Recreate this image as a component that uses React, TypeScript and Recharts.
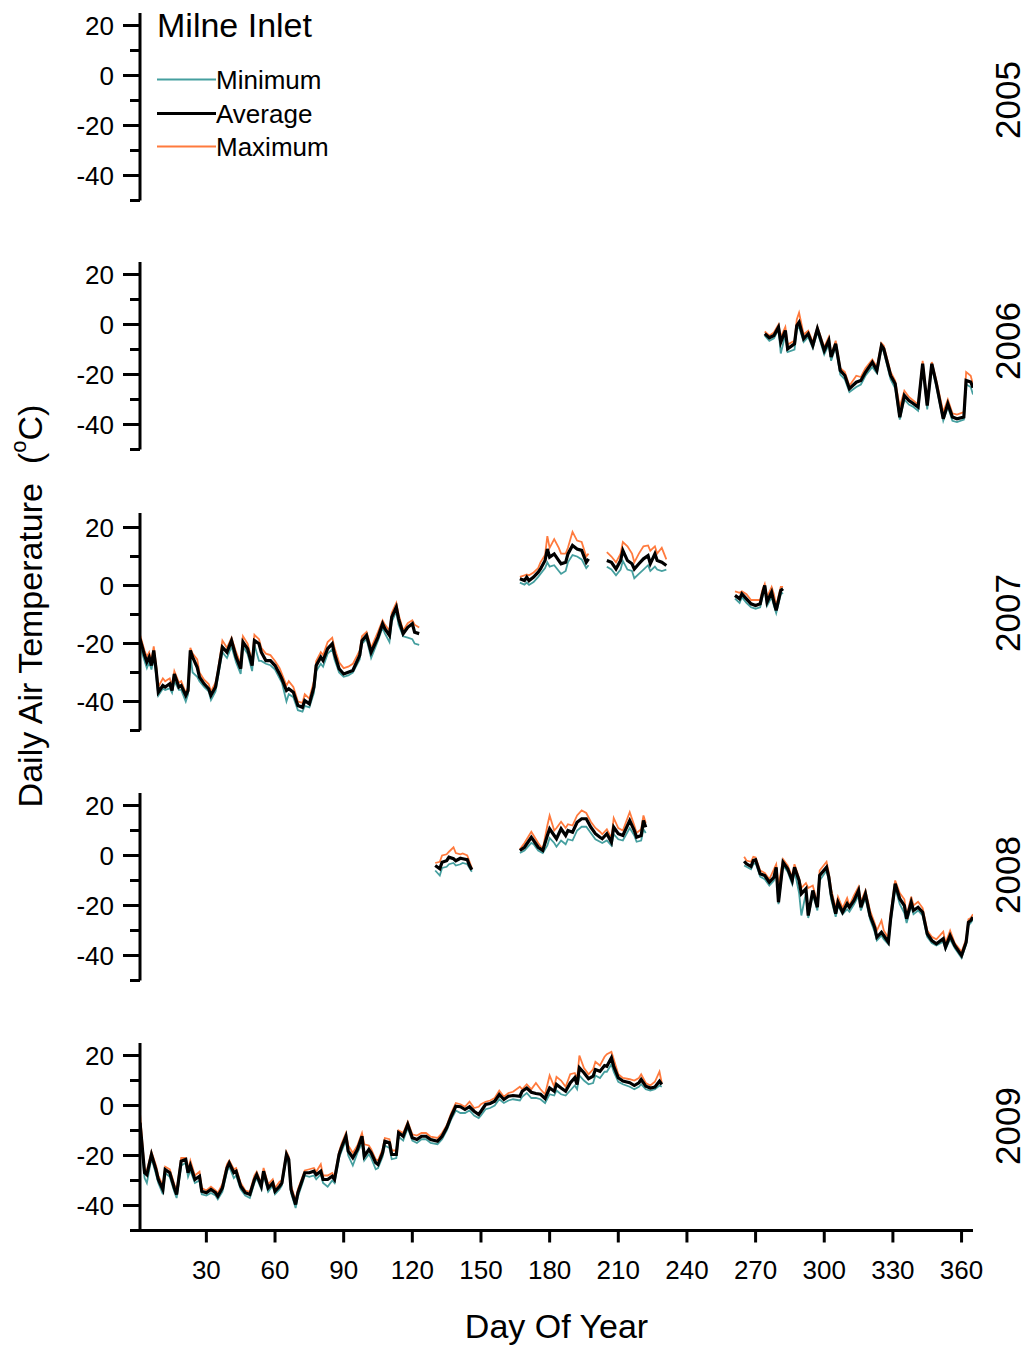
import React from "react";
import { LineChart, Line, XAxis, YAxis, Legend } from "recharts";

const FONT = '"Liberation Sans", Arial, Helvetica, sans-serif';
const MIN_COLOR = "#459f9f";
const MAX_COLOR = "#ff7a3d";
const AVG_COLOR = "#000000";
const AXIS_X = 140;

const dayTicks = [30, 60, 90, 120, 150, 180, 210, 240, 270, 300, 330, 360];
const tempTicks = [-50, -40, -30, -20, -10, 0, 10, 20];
const years = ["2005", "2006", "2007", "2008", "2009"];

// 2006: record starts in early October
const days2006 = [274, 276, 278, 280, 281, 283, 284, 287, 288, 289, 291, 293, 295, 297, 300, 302, 303, 305, 307, 309, 311, 314, 316, 318, 321, 323, 325, 326, 329, 331, 333, 335, 337, 339, 341, 343, 345, 347, 349, 352, 354, 356, 358, 361, 362, 364, 365];
const avg2006 = [-3.7, -5.3, -4.4, -1.1, -7.1, -2.4, -9.7, -7.7, -0.4, 0.9, -5.7, -3.7, -8.4, -1.7, -10.4, -6.4, -13, -7.7, -18.4, -20.4, -25.7, -23.1, -22.4, -19.1, -15.1, -18.4, -8.4, -9.7, -20.4, -23.7, -37.1, -28.4, -30.4, -31.7, -33, -15.7, -32.4, -15.7, -23.7, -37.7, -31.7, -37, -37.7, -37, -22.4, -23, -25.3];
const min2006 = [-4.5, -6.5, -5.5, -2, -11.6, -4, -11, -10, -2, -1, -7, -5, -9.5, -3, -12, -8, -14.5, -9, -20, -22, -27, -25, -24, -20.5, -17, -19.5, -9.5, -11, -22, -25.5, -38, -30, -32, -33, -34.5, -17, -34, -17, -25, -38.5, -33, -38.5, -39, -38, -24, -25, -28];
const max2006 = [-2.8, -4.5, -3.2, 0, -5, -1, -8, -6.5, 2, 4.7, -4, -2.5, -7, -1, -9, -5, -12, -6.5, -17.5, -19, -24.5, -20.5, -21, -17.5, -14, -17, -7.5, -8.5, -19, -22.5, -33, -26.5, -29, -30.5, -32, -14.5, -31, -15, -22.5, -35, -30, -35.5, -36, -35, -19, -20.5, -24];

// 2007: null marks a gap in the logger record
const days2007 = [
  1, 3, 4, 5, 6, 7, 8, 9, 11, 12, 14, 15, 16, 18, 19, 21, 22, 23, 24, 26, 27, 29, 31, 32, 34, 35, 37, 39, 41, 43, 45, 46, 48, 50, 51, 53, 54, 56, 58, 60, 62, 63, 65, 66, 68, 70, 72, 73, 75, 77, 78, 80, 81, 83, 85, 86, 88, 90, 92, 94, 97, 98, 100, 102, 105, 107, 108, 110, 111, 113, 114, 116, 118, 120, 121, 123,
  145,
  167, 169, 170, 171, 173, 175, 176, 178, 179, 180, 182, 184, 185, 187, 188, 190, 192, 194, 196, 197,
  201,
  205, 207, 209, 211, 212, 214, 216, 217, 219, 221, 223, 224, 226, 227, 229, 231,
  246,
  261, 263, 264, 266, 268, 270, 272, 273, 274, 275, 277, 278, 279, 281, 282,
];
const avg2007 = [
  -18.4, -24.1, -26.4, -24.7, -27.6, -22.4, -28.7, -36.8, -34.5, -35, -33.9, -36.2, -30.5, -35, -34.5, -37.9, -36.2, -22.4, -24.7, -28.2, -31.6, -33.9, -35.6, -37.9, -35, -30.5, -21.3, -23, -19, -24.7, -28.7, -19.5, -21.8, -27.6, -19, -20.1, -23, -25.9, -25.9, -27.6, -30.5, -32.2, -36.2, -35.6, -36.8, -41.4, -42, -39.7, -40.8, -35, -27.6, -24.7, -25.9, -21.8, -20.1, -23.6, -28.7, -30.5, -29.9, -29.3, -24.1, -19, -17.2, -23, -17.8, -13.2, -14.9, -17.2, -10.9, -7.5, -11.5, -16.6, -14.4, -13.2, -16.1, -16.6,
  null,
  2.3, 1.7, 2.9, 1.7, 2.9, 4.6, 5.7, 8.6, 12.6, 9.8, 10.9, 8.6, 7.5, 8, 10.9, 13.8, 12.6, 12.1, 8, 9.2,
  null,
  8.6, 8, 5.7, 8.6, 12.1, 8.6, 7.5, 5.7, 7.5, 9.2, 10.3, 7.5, 10.9, 8.6, 8, 6.9,
  null,
  -3.4, -4.6, -2.9, -4.6, -6.3, -6.9, -6.3, -2.9, 0, -5.7, -2.3, -5.7, -8.6, -1.7, -1.1,
];
const min2007 = [
  -21, -26, -28.5, -26.5, -29, -25, -30.5, -38, -35.5, -36, -35.5, -37, -33, -36, -36, -40, -37.5, -24, -30, -31.5, -33, -35, -36.5, -39.5, -36.5, -32, -23, -25, -21, -26.5, -30.5, -21, -23.5, -29.5, -20.5, -26, -26, -27, -27.5, -29, -32, -33.5, -40, -37.5, -38.5, -43, -43.5, -41.5, -42, -37, -29.5, -27, -28, -23.5, -22, -25.5, -30, -31.5, -31, -30, -25.5, -20, -18.5, -25, -19, -14.5, -16.5, -19.5, -12.5, -9, -13.5, -17.5, -18, -18.5, -20, -20.5,
  null,
  1, 0.3, 1, 0.2, 1.2, 3, 4, 6, 8, 6.5, 7, 5, 4, 5, 8, 10.5, 10, 9, 6, 7,
  null,
  6.5, 5.5, 3.5, 5.5, 8.5, 5.5, 5, 2.5, 4, 5.5, 7, 5, 6.5, 5.5, 5, 5.5,
  null,
  -4.5, -6, -4, -6, -7.5, -8, -7.5, -4, -1, -7, -4, -7, -9.5, -3, -2.5,
];
const max2007 = [
  -17, -22.5, -24.5, -23, -26, -21, -27, -35, -32, -33, -32, -34.5, -29.5, -33.5, -33, -37, -35, -21.5, -23.5, -25.5, -30, -32.5, -34, -36.5, -33.5, -29.5, -19, -21.5, -18, -23, -27, -17.5, -20, -26, -17, -18.5, -21.5, -23.5, -24, -26, -28.5, -30.5, -34.5, -33, -35, -40, -40.5, -37.5, -39, -33, -26, -23, -24, -19.5, -18, -21.5, -26.5, -28.5, -28, -27, -22.5, -17.5, -16, -21.5, -16, -12, -13.5, -15.5, -9.5, -6, -10, -15.5, -13, -12, -13.5, -14.5,
  null,
  3, 3.5, 3.8, 3.5, 4.5, 6, 8, 10.5, 17, 13, 16, 13, 11, 11, 13, 18.5, 15.5, 15, 10, 11,
  null,
  11.5, 10, 8, 11, 15, 13.5, 11, 8, 11, 13.5, 13.8, 12, 13.5, 11, 13, 9,
  null,
  -2, -2.5, -2, -3, -5, -5, -5, -1.5, 0.5, -4, -0.5, -3, -7, -0.5, -0.5,
];

// 2008
const days2008 = [
  130, 132, 133, 135, 136, 138, 139, 141, 142, 144, 145, 146,
  157,
  167, 169, 172, 173, 175, 177, 179, 180, 182, 183, 185, 187, 188, 190, 192, 194, 196, 198, 200, 202, 203, 205, 207, 208, 210, 212, 215, 217, 218, 220, 221, 222,
  243,
  265, 266, 268, 269, 270, 272, 274, 276, 278, 279, 280, 282, 284, 286, 287, 289, 290, 292, 293, 295, 297, 298, 301, 302, 303, 305, 306, 308, 310, 311, 313, 315, 316, 318, 320, 322, 323, 325, 326, 328, 329, 331, 333, 335, 336, 338, 339, 341, 343, 345, 347, 349, 352, 353, 355, 357, 360, 362, 363, 364, 365,
];
const avg2008 = [
  -4, -5.3, -2.7, -2.1, -0.7, -1.3, -2.1, -1.1, -1.3, -1.7, -4, -5.7,
  null,
  2, 3.3, 7.3, 6, 3.3, 2, 8, 10.7, 8, 6.7, 10.7, 8, 10, 9.3, 13.3, 14.7, 14.7, 11.3, 8.7, 7.3, 6.7, 8.7, 5.3, 11.3, 8.7, 8, 14, 10, 7.3, 8, 14, 11.3,
  null,
  -2.3, -3.3, -4.4, -2, -1.7, -7.3, -8, -10.7, -8.7, -4.7, -18.7, -2.7, -5.3, -10, -4.7, -10, -15.3, -13.3, -24, -14, -20.7, -8, -4.7, -8.7, -15.3, -23.3, -18.7, -22.7, -19.3, -20.7, -18, -14, -20.7, -15.3, -24, -28.7, -32.7, -30.7, -32, -34.7, -25.3, -11.3, -17.3, -20, -25.3, -18.7, -22, -20.7, -22.7, -31.3, -34, -35.3, -33.3, -36.7, -32, -36, -40, -34.7, -26.7, -26, -24.7,
];
const min2008 = [
  -6, -8, -5, -4.5, -3.5, -3, -4, -3.5, -3, -3.5, -5, -6.5,
  null,
  1, 2, 5, 4.5, 2, 1, 4, 7, 5, 3.5, 6, 4.5, 6.5, 6, 10, 11.5, 11.5, 9, 6.5, 5.5, 5, 6, 4, 8.5, 6.5, 6, 11, 8, 5.5, 6, 10.5, 9,
  null,
  -4, -4.5, -5.5, -3.5, -3, -8.5, -9.5, -12, -10, -6, -19.5, -4, -6.5, -11.5, -6, -15, -24, -15, -25, -15.5, -22, -10, -6, -10, -17.5, -24.5, -20, -23.5, -21.5, -22.5, -19.5, -16, -22, -17, -25.5, -30.5, -34, -32, -33.5, -35.5, -27, -13, -19.5, -23, -27, -20, -23.5, -22, -24, -32.5, -35, -36, -34.5, -37.5, -33.5, -37, -41, -35.5, -28, -27, -25.5,
];
const max2008 = [
  -3, -2.5, 0, 0.5, 1.5, 3.3, 1, 0.5, 0.8, 0, -2.5, -5,
  null,
  2.5, 5, 9.5, 8, 5, 2.5, 12, 16, 10, 11, 13.5, 11, 12.5, 12, 16, 18, 17, 13.5, 11, 9.5, 8.5, 10.5, 7, 15, 11, 10, 17.3, 12, 9, 10.5, 16, 13,
  null,
  -0.5, -2, -2.5, -0.5, -0.8, -6, -7, -9.5, -5.5, -3.5, -12, -1.5, -4, -8.5, -3.5, -9, -13, -11, -13, -12, -19, -6, -2.5, -7, -13.5, -21, -16.5, -21, -17, -20, -16, -12.5, -18.5, -14, -22, -27, -30, -26, -30, -33, -23, -10, -15, -17.5, -24, -16.5, -20, -18.5, -21, -30, -32.5, -33.5, -30.5, -35, -30, -35, -38.5, -33.5, -25.5, -25, -23.5,
];

// 2009: record ends mid-August
const days2009 = [1, 3, 4, 6, 8, 9, 11, 12, 14, 16, 17, 19, 21, 22, 23, 25, 27, 28, 30, 32, 34, 35, 37, 39, 40, 42, 43, 45, 47, 49, 51, 52, 54, 55, 57, 59, 60, 62, 63, 65, 66, 67, 69, 70, 72, 73, 75, 77, 78, 80, 81, 83, 85, 86, 88, 89, 91, 92, 94, 96, 98, 99, 101, 102, 104, 105, 107, 108, 110, 111, 113, 114, 116, 118, 120, 122, 124, 126, 128, 131, 133, 135, 137, 139, 141, 143, 145, 147, 149, 150, 152, 154, 156, 158, 160, 162, 164, 167, 168, 170, 172, 174, 176, 178, 180, 182, 183, 185, 187, 189, 191, 192, 193, 195, 197, 199, 200, 202, 204, 205, 207, 208, 210, 212, 215, 217, 219, 220, 222, 224, 226, 228, 229];
const avg2009 = [-6.9, -26.9, -27.7, -19.6, -25.7, -29.6, -33.6, -25.6, -26.9, -33, -35.6, -22.3, -21.6, -26.9, -24, -29.6, -28.3, -34.3, -34.9, -33.6, -34.9, -36.3, -33, -25, -23, -26.9, -26.3, -32.3, -34.9, -35.6, -29.6, -27.7, -32.3, -26.3, -33, -31, -34.3, -32.3, -31, -19.6, -21.6, -33.6, -39.6, -34.9, -29.6, -26.9, -26.9, -26.3, -27.7, -26.3, -29.6, -29.6, -28.3, -29.6, -19.6, -16.9, -12.3, -18.3, -20.9, -17.6, -12.3, -20.3, -17.6, -18.9, -22.9, -23.6, -18.9, -14.3, -14.9, -19.6, -19.6, -10.9, -12.3, -7.6, -12.9, -13.6, -12.3, -12.3, -13.6, -14.3, -12.3, -8.9, -4.3, -0.3, -0.5, -1.6, -0.5, -2.3, -3.6, -2.3, 0.4, 0.8, 1.7, 4.4, 2.4, 3.7, 4, 3.7, 5.7, 7, 5.3, 4.8, 4.5, 2.8, 7, 5.7, 8.4, 7, 5.7, 9, 11.1, 8.4, 15.1, 13.1, 10.7, 11.7, 14.4, 13.7, 16, 15.7, 19.1, 15.7, 11.1, 9.8, 9.1, 8, 9.1, 10.4, 7.7, 7, 7.4, 9.7, 8.4];
const min2009 = [-10, -29, -31, -21, -27.5, -31, -35.5, -27, -28.5, -34.5, -37, -24, -23, -28.5, -26, -31, -30, -35.5, -36, -35, -36, -37.5, -34.5, -26.5, -24.5, -29, -28, -33.5, -36, -37, -31, -29, -33.5, -27.5, -34.5, -32, -35.5, -33.5, -32, -21, -23, -35, -41, -36.5, -31, -28, -28.5, -28, -29.5, -27.5, -31, -32.5, -30, -31, -21, -18.5, -14, -20, -24, -19, -15, -22, -19.5, -21, -25.5, -25, -20.5, -16, -17, -21.5, -21, -12.5, -14, -9, -14, -15, -13.5, -13.5, -15, -15.5, -13.5, -10, -5.5, -2, -3, -3, -2, -4, -5, -4, -1.5, -1, 0, 2.5, 1, 2, 2.5, 2, 3.5, 5, 3, 3, 2.5, 1, 4.5, 4, 6, 4.5, 4, 6, 8, 6.5, 12, 10, 8.5, 9, 12, 11, 13.5, 13.5, 16.5, 13.5, 9.5, 8.5, 7.5, 6.5, 7.5, 8.5, 6.5, 6, 6.5, 8, 7.5];
const max2009 = [-3, -25.5, -26, -18.5, -24, -28, -32, -24.5, -25.5, -31.5, -34, -21, -21, -25.5, -22, -28, -26.5, -33, -34, -32.5, -34, -35, -31.5, -23.5, -22, -25.5, -25, -31, -34, -34.5, -28, -26.5, -31, -25, -31.5, -29.5, -33, -30.5, -30, -18.5, -20.5, -32, -38, -33.5, -28.5, -26, -25.5, -25, -26.5, -23.5, -28, -28, -27, -28.5, -18.5, -15.5, -11, -16, -19, -16, -11, -15.5, -16, -17.5, -21.5, -22, -17.5, -13, -13.5, -18, -18, -10, -11, -6.5, -11.5, -12, -11, -11, -12.5, -13, -11, -8, -3, 1, 0.5, -0.5, 1.5, -1, -0.5, 0.5, 1.5, 2, 3, 6, 3.5, 5, 5.5, 7.5, 6.5, 8.5, 6.5, 9, 6.5, 4.5, 12, 7.5, 11.5, 10, 7.5, 12.5, 13, 10.5, 20, 15, 12.5, 14.5, 17.5, 16, 19.5, 20.5, 21.5, 18.5, 12.5, 11, 10.5, 10, 11, 12.5, 9, 8, 9.5, 13.5, 9];

type Row = { day: number; min: number | null; avg: number | null; max: number | null };

const buildRows = (
  days: number[],
  mins: (number | null)[],
  avgs: (number | null)[],
  maxs: (number | null)[]
): Row[] =>
  days.map((day, i) => ({
    day,
    min: mins[i] ?? null,
    avg: avgs[i] ?? null,
    max: maxs[i] ?? null,
  }));

// 2005 has no record at this station
const rows2005: Row[] = [
  { day: 1, min: null, avg: null, max: null },
  { day: 365, min: null, avg: null, max: null },
];

const TempTick = (props: any) => {
  const { y, payload } = props;
  const major = payload.value % 20 === 0;
  return (
    <g>
      <line
        x1={AXIS_X - (major ? 17 : 10)}
        x2={AXIS_X}
        y1={y}
        y2={y}
        stroke="#000"
        strokeWidth={3}
      />
      {major && (
        <text
          x={AXIS_X - 26}
          y={y}
          dy="0.36em"
          textAnchor="end"
          fontSize={26}
          fontFamily={FONT}
          fill="#000"
        >
          {payload.value}
        </text>
      )}
    </g>
  );
};

const legendOrder = ["Minimum", "Average", "Maximum"];

const LegendBox = (props: any) => {
  const items = [...(props.payload || [])].sort(
    (a: any, b: any) => legendOrder.indexOf(a.value) - legendOrder.indexOf(b.value)
  );
  const rowY = [78.5, 112.5, 145.5];
  return (
    <svg width={230} height={170} style={{ overflow: "visible" }}>
      <text x={7} y={24} dy="0.36em" fontSize={34} fontFamily={FONT} fill="#000">
        Milne Inlet
      </text>
      {items.map((item: any, i: number) => (
        <g key={item.value}>
          <line
            x1={7}
            x2={66}
            y1={rowY[i]}
            y2={rowY[i]}
            stroke={item.color}
            strokeWidth={item.value === "Average" ? 3.2 : 1.8}
          />
          <text x={66} y={rowY[i]} dy="0.36em" fontSize={26} fontFamily={FONT} fill="#000">
            {item.value}
          </text>
        </g>
      ))}
    </svg>
  );
};

type PanelProps = {
  plotTop: number;
  plotHeight: number;
  data: Row[];
  bottom?: boolean;
  legend?: boolean;
};

const MARGIN_TOP = 12;

function YearPanel({ plotTop, plotHeight, data, bottom, legend }: PanelProps) {
  const xAxisHeight = bottom ? 116 : 0;
  const marginBottom = bottom ? 0 : 12;
  const height = plotHeight + MARGIN_TOP + marginBottom + xAxisHeight;
  return (
    <div style={{ position: "absolute", left: 0, top: plotTop - MARGIN_TOP }}>
      <LineChart
        width={1028}
        height={height}
        data={data}
        margin={{ top: MARGIN_TOP, right: 55, bottom: marginBottom, left: 0 }}
      >
        <XAxis
          type="number"
          dataKey="day"
          domain={[1, 365]}
          ticks={dayTicks}
          interval={0}
          hide={!bottom}
          height={xAxisHeight}
          allowDataOverflow
          axisLine={{ stroke: "#000", strokeWidth: 3 }}
          tickLine={{ stroke: "#000", strokeWidth: 3 }}
          tickSize={12}
          tickMargin={18}
          tick={{ fontSize: 26, fill: "#000", fontFamily: FONT }}
          label={{
            value: "Day Of Year",
            position: "insideBottom",
            offset: 9,
            fontSize: 34,
            fill: "#000",
            fontFamily: FONT,
          }}
        />
        <YAxis
          type="number"
          domain={[-50, 25]}
          ticks={tempTicks}
          interval={0}
          width={AXIS_X}
          allowDataOverflow
          axisLine={{ stroke: "#000", strokeWidth: 3 }}
          tickLine={false}
          tick={TempTick}
        />
        {legend && (
          <Legend
            layout="vertical"
            align="center"
            verticalAlign="middle"
            content={LegendBox}
            wrapperStyle={{ left: 150, top: 0, width: 230, height: 170 }}
          />
        )}
        <Line
          type="linear"
          dataKey="min"
          name="Minimum"
          stroke={MIN_COLOR}
          strokeWidth={1.8}
          dot={false}
          connectNulls={false}
          isAnimationActive={false}
        />
        <Line
          type="linear"
          dataKey="max"
          name="Maximum"
          stroke={MAX_COLOR}
          strokeWidth={1.8}
          dot={false}
          connectNulls={false}
          isAnimationActive={false}
        />
        <Line
          type="linear"
          dataKey="avg"
          name="Average"
          stroke={AVG_COLOR}
          strokeWidth={3.2}
          dot={false}
          connectNulls={false}
          isAnimationActive={false}
        />
      </LineChart>
    </div>
  );
}

const yearLabelY = [100, 341, 613, 875, 1126];

export default function App() {
  return (
    <div
      style={{
        position: "absolute",
        left: 0,
        top: 0,
        width: 1028,
        height: 1347,
        background: "#fff",
        fontFamily: FONT,
      }}
    >
      <YearPanel plotTop={12.5} plotHeight={187.5} data={rows2005} legend />
      <YearPanel plotTop={262} plotHeight={187.5} data={buildRows(days2006, min2006, avg2006, max2006)} />
      <YearPanel plotTop={512.5} plotHeight={217.5} data={buildRows(days2007, min2007, avg2007, max2007)} />
      <YearPanel plotTop={792.5} plotHeight={187.5} data={buildRows(days2008, min2008, avg2008, max2008)} />
      <YearPanel plotTop={1042.5} plotHeight={187.5} data={buildRows(days2009, min2009, avg2009, max2009)} bottom />
      <svg
        width={1028}
        height={1347}
        style={{ position: "absolute", left: 0, top: 0, pointerEvents: "none" }}
      >
        <text
          transform="translate(30,606) rotate(-90)"
          textAnchor="middle"
          dominantBaseline="central"
          fontSize={34}
          fontFamily={FONT}
          fill="#000"
        >
          Daily Air Temperature{"\u00a0\u00a0"}(
          <tspan fontSize={22} dy={-12}>
            o
          </tspan>
          <tspan dy={12}>C)</tspan>
        </text>
        {years.map((year, i) => (
          <text
            key={year}
            transform={`translate(1007,${yearLabelY[i]}) rotate(-90)`}
            textAnchor="middle"
            dominantBaseline="central"
            fontSize={35}
            fontFamily={FONT}
            fill="#000"
          >
            {year}
          </text>
        ))}
      </svg>
    </div>
  );
}
